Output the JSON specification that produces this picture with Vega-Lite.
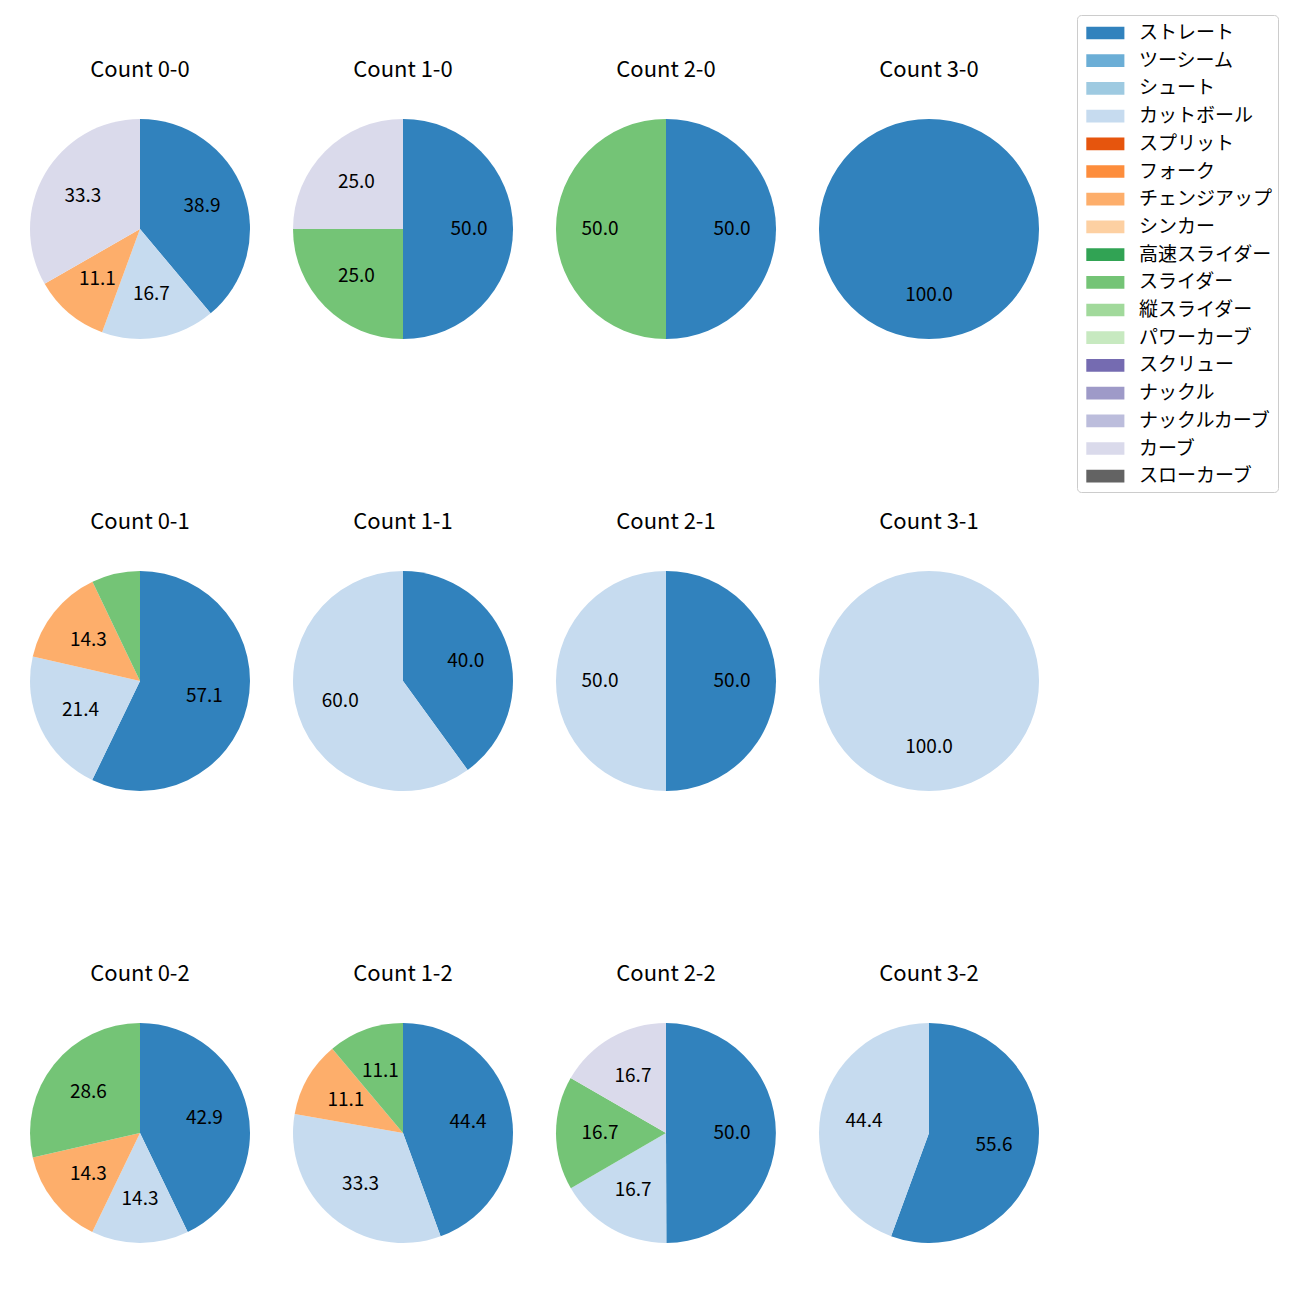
{
  "$schema": "https://vega.github.io/schema/vega-lite/v6.json",
  "padding": {"left": 30, "top": 14, "right": 0, "bottom": 0},
  "background": "white",
  "data": {"values": [
    {"count": "Count 0-0", "pitch": "ストレート", "pct": 38.9},
    {"count": "Count 0-0", "pitch": "カットボール", "pct": 16.7},
    {"count": "Count 0-0", "pitch": "チェンジアップ", "pct": 11.1},
    {"count": "Count 0-0", "pitch": "カーブ", "pct": 33.3},
    {"count": "Count 1-0", "pitch": "ストレート", "pct": 50.0},
    {"count": "Count 1-0", "pitch": "スライダー", "pct": 25.0},
    {"count": "Count 1-0", "pitch": "カーブ", "pct": 25.0},
    {"count": "Count 2-0", "pitch": "ストレート", "pct": 50.0},
    {"count": "Count 2-0", "pitch": "スライダー", "pct": 50.0},
    {"count": "Count 3-0", "pitch": "ストレート", "pct": 100.0},
    {"count": "Count 0-1", "pitch": "ストレート", "pct": 57.1},
    {"count": "Count 0-1", "pitch": "カットボール", "pct": 21.4},
    {"count": "Count 0-1", "pitch": "チェンジアップ", "pct": 14.3},
    {"count": "Count 0-1", "pitch": "スライダー", "pct": 7.1},
    {"count": "Count 1-1", "pitch": "ストレート", "pct": 40.0},
    {"count": "Count 1-1", "pitch": "カットボール", "pct": 60.0},
    {"count": "Count 2-1", "pitch": "ストレート", "pct": 50.0},
    {"count": "Count 2-1", "pitch": "カットボール", "pct": 50.0},
    {"count": "Count 3-1", "pitch": "カットボール", "pct": 100.0},
    {"count": "Count 0-2", "pitch": "ストレート", "pct": 42.9},
    {"count": "Count 0-2", "pitch": "カットボール", "pct": 14.3},
    {"count": "Count 0-2", "pitch": "チェンジアップ", "pct": 14.3},
    {"count": "Count 0-2", "pitch": "スライダー", "pct": 28.6},
    {"count": "Count 1-2", "pitch": "ストレート", "pct": 44.4},
    {"count": "Count 1-2", "pitch": "カットボール", "pct": 33.3},
    {"count": "Count 1-2", "pitch": "チェンジアップ", "pct": 11.1},
    {"count": "Count 1-2", "pitch": "スライダー", "pct": 11.1},
    {"count": "Count 2-2", "pitch": "ストレート", "pct": 50.0},
    {"count": "Count 2-2", "pitch": "カットボール", "pct": 16.7},
    {"count": "Count 2-2", "pitch": "スライダー", "pct": 16.7},
    {"count": "Count 2-2", "pitch": "カーブ", "pct": 16.7},
    {"count": "Count 3-2", "pitch": "ストレート", "pct": 55.6},
    {"count": "Count 3-2", "pitch": "カットボール", "pct": 44.4}
  ]},
  "transform": [
    {"calculate": "indexof(['ストレート','ツーシーム','シュート','カットボール','スプリット','フォーク','チェンジアップ','シンカー','高速スライダー','スライダー','縦スライダー','パワーカーブ','スクリュー','ナックル','ナックルカーブ','カーブ','スローカーブ'], datum.pitch)", "as": "rank"}
  ],
  "facet": {
    "field": "count",
    "type": "nominal",
    "sort": ["Count 0-0", "Count 1-0", "Count 2-0", "Count 3-0", "Count 0-1", "Count 1-1", "Count 2-1", "Count 3-1", "Count 0-2", "Count 1-2", "Count 2-2", "Count 3-2"],
    "header": {"title": null, "labelFontSize": 22, "labelFont": "Noto Sans CJK JP", "labelColor": "black", "labelPadding": 37}
  },
  "columns": 4,
  "spacing": {"column": 43, "row": 172},
  "spec": {
    "width": 220,
    "height": 220,
    "encoding": {
      "theta": {"field": "pct", "type": "quantitative", "stack": "normalize"},
      "order": {"field": "rank", "type": "quantitative"},
      "color": {
        "field": "pitch",
        "type": "nominal",
        "scale": {
          "domain": ["ストレート", "ツーシーム", "シュート", "カットボール", "スプリット", "フォーク", "チェンジアップ", "シンカー", "高速スライダー", "スライダー", "縦スライダー", "パワーカーブ", "スクリュー", "ナックル", "ナックルカーブ", "カーブ", "スローカーブ"],
          "range": ["#3182bd", "#6baed6", "#9ecae1", "#c6dbef", "#e6550d", "#fd8d3c", "#fdae6b", "#fdd0a2", "#31a354", "#74c476", "#a1d99b", "#c7e9c0", "#756bb1", "#9e9ac8", "#bcbddc", "#dadaeb", "#636363"]
        },
        "legend": {
          "title": null,
          "orient": "none",
          "legendX": 1047,
          "legendY": -104,
          "symbolType": "M-1,-0.5H2V0.5H-1Z",
          "symbolSize": 645,
          "symbolStrokeWidth": 0,
          "symbolOpacity": 1,
          "symbolOffset": 4,
          "labelFont": "Noto Sans CJK JP",
          "labelFontSize": 19,
          "labelColor": "black",
          "labelOffset": 27,
          "labelLimit": 300,
          "rowPadding": 4.7,
          "padding": 5,
          "strokeColor": "#cccccc",
          "fillColor": "white",
          "cornerRadius": 4
        }
      }
    },
    "layer": [
      {"mark": {"type": "arc"}},
      {
        "mark": {"type": "text", "radius": 66, "fontSize": 19, "font": "Noto Sans CJK JP", "color": "black"},
        "encoding": {
          "text": {"condition": {"test": "datum.pct < 10", "value": ""}, "field": "pct", "type": "quantitative", "format": ".1f"},
          "detail": {"field": "pitch"},
          "color": {"value": "black"}
        }
      }
    ]
  },
  "config": {"view": {"stroke": null}}
}
